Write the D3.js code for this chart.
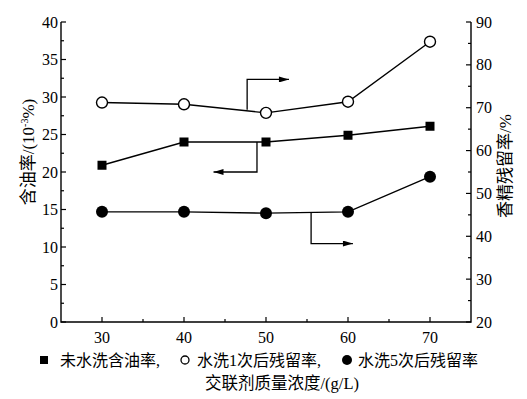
<!DOCTYPE html>
<html>
<head>
<meta charset="utf-8">
<script src="https://cdn.jsdelivr.net/npm/d3@7"></script>
<style>
  body { margin: 0; background: #fff; }
  text { font-family: "Liberation Serif", "Noto Sans CJK SC", serif; fill: #000; }
</style>
</head>
<body>
<script>
// concentration of crosslinker (g/L)
var conc = [30, 40, 50, 60, 70];
// left axis: oil content before washing (10^-3 %)
var oilContent = [20.9, 24.0, 24.0, 24.9, 26.1];
// right axis: retention after 1 wash (%)
var retain1 = [71.2, 70.8, 68.8, 71.4, 85.4];
// right axis: retention after 5 washes (%)
var retain5 = [45.7, 45.7, 45.4, 45.7, 53.9];

var xTicks = [30, 40, 50, 60, 70];
var leftTicks = [0, 5, 10, 15, 20, 25, 30, 35, 40];
var rightTicks = [20, 30, 40, 50, 60, 70, 80, 90];

// arrow annotations in data units, with the axis they refer to
var arrows = [
  {axis: 'right', pts: [[47.7, 69.5], [47.7, 76.6], [52.8, 76.6]]},
  {axis: 'left', pts: [[48.9, 24.0], [48.9, 20.0], [43.6, 20.0]]},
  {axis: 'right', pts: [[55.5, 45.5], [55.5, 38.3], [60.6, 38.3]]}
];

var width = 527, height = 399;
var margin = {top: 22, right: 56, bottom: 77, left: 61};

var svg = d3.select('body').append('svg')
    .attr('width', width)
    .attr('height', height);

var defs = svg.append('defs');
defs.append('marker')
    .attr('id', 'arr')
    .attr('viewBox', '0 0 10 6')
    .attr('refX', 10).attr('refY', 3)
    .attr('markerWidth', 11).attr('markerHeight', 6)
    .attr('markerUnits', 'userSpaceOnUse')
    .attr('orient', 'auto')
    .append('path').attr('d', 'M0,0L10,3L0,6Z').attr('fill', '#000');

var x = d3.scaleLinear().domain([25, 75]).range([margin.left, width - margin.right]);
var yL = d3.scaleLinear().domain([0, 40]).range([height - margin.bottom, margin.top]);
var yR = d3.scaleLinear().domain([20, 90]).range([height - margin.bottom, margin.top]);

var g = svg.append('g');

// axis lines
var x0 = x.range()[0], x1 = x.range()[1], yb = yL.range()[0], yt = yL.range()[1];
g.append('path')
    .attr('d', 'M' + x0 + ',' + yt + 'V' + yb + 'H' + x1 + 'V' + yt)
    .attr('fill', 'none').attr('stroke', '#000').attr('stroke-width', 1.4);

// bottom ticks (inward)
var xMinor = d3.range(35, 75, 10);
g.selectAll('.xt').data(xTicks).enter().append('line')
    .attr('x1', function (d) { return x(d); }).attr('x2', function (d) { return x(d); })
    .attr('y1', yb).attr('y2', yb - 5)
    .attr('stroke', '#000').attr('stroke-width', 1.2);
g.selectAll('.xm').data(xMinor).enter().append('line')
    .attr('x1', function (d) { return x(d); }).attr('x2', function (d) { return x(d); })
    .attr('y1', yb).attr('y2', yb - 3)
    .attr('stroke', '#000').attr('stroke-width', 1.2);
g.selectAll('.xl').data(xTicks).enter().append('text')
    .attr('x', function (d) { return x(d); }).attr('y', yb + 21)
    .attr('text-anchor', 'middle').attr('font-size', 16)
    .text(function (d) { return d; });

// left ticks
var leftMinor = d3.range(2.5, 40, 5);
g.selectAll('.lt').data(leftTicks).enter().append('line')
    .attr('x1', x0).attr('x2', x0 + 5)
    .attr('y1', function (d) { return yL(d); }).attr('y2', function (d) { return yL(d); })
    .attr('stroke', '#000').attr('stroke-width', 1.2);
g.selectAll('.lm').data(leftMinor).enter().append('line')
    .attr('x1', x0).attr('x2', x0 + 3)
    .attr('y1', function (d) { return yL(d); }).attr('y2', function (d) { return yL(d); })
    .attr('stroke', '#000').attr('stroke-width', 1.2);
g.selectAll('.ll').data(leftTicks).enter().append('text')
    .attr('x', x0 - 3).attr('y', function (d) { return yL(d) + 5.5; })
    .attr('text-anchor', 'end').attr('font-size', 16)
    .text(function (d) { return d; });

// right ticks
var rightMinor = d3.range(25, 90, 10);
g.selectAll('.rt').data(rightTicks).enter().append('line')
    .attr('x1', x1).attr('x2', x1 - 5)
    .attr('y1', function (d) { return yR(d); }).attr('y2', function (d) { return yR(d); })
    .attr('stroke', '#000').attr('stroke-width', 1.2);
g.selectAll('.rm').data(rightMinor).enter().append('line')
    .attr('x1', x1).attr('x2', x1 - 3)
    .attr('y1', function (d) { return yR(d); }).attr('y2', function (d) { return yR(d); })
    .attr('stroke', '#000').attr('stroke-width', 1.2);
g.selectAll('.rl').data(rightTicks).enter().append('text')
    .attr('x', x1 + 5).attr('y', function (d) { return yR(d) + 5.5; })
    .attr('text-anchor', 'start').attr('font-size', 16)
    .text(function (d) { return d; });

// axis titles
svg.append('text')
    .attr('transform', 'translate(34,152) rotate(-90)')
    .attr('text-anchor', 'middle').attr('font-size', 17)
    .html('含油率/(10<tspan dy="-6" font-size="10">-3</tspan><tspan dy="6">%)</tspan>');
svg.append('text')
    .attr('transform', 'translate(511,166) rotate(-90)')
    .attr('text-anchor', 'middle').attr('font-size', 17)
    .text('香精残留率/%');
svg.append('text')
    .attr('x', 282).attr('y', 389)
    .attr('text-anchor', 'middle').attr('font-size', 16.5)
    .text('交联剂质量浓度/(g/L)');

// series lines
function lineFor(yScale) {
  return d3.line()
      .x(function (d) { return x(d[0]); })
      .y(function (d) { return yScale(d[1]); });
}
var sq = d3.zip(conc, oilContent);
var c1 = d3.zip(conc, retain1);
var c5 = d3.zip(conc, retain5);

[[sq, yL], [c1, yR], [c5, yR]].forEach(function (s) {
  g.append('path').datum(s[0]).attr('d', lineFor(s[1]))
      .attr('fill', 'none').attr('stroke', '#000').attr('stroke-width', 1.4);
});

// arrows
arrows.forEach(function (a) {
  var ys = a.axis === 'left' ? yL : yR;
  g.append('path').datum(a.pts).attr('d', lineFor(ys))
      .attr('fill', 'none').attr('stroke', '#000').attr('stroke-width', 1.3)
      .attr('marker-end', 'url(#arr)');
});

// markers
g.selectAll('.sq').data(sq).enter().append('rect')
    .attr('x', function (d) { return x(d[0]) - 4.5; })
    .attr('y', function (d) { return yL(d[1]) - 4.5; })
    .attr('width', 9).attr('height', 9).attr('fill', '#000');
g.selectAll('.c1').data(c1).enter().append('circle')
    .attr('cx', function (d) { return x(d[0]); })
    .attr('cy', function (d) { return yR(d[1]); })
    .attr('r', 5.5).attr('fill', '#fff').attr('stroke', '#000').attr('stroke-width', 1.4);
g.selectAll('.c5').data(c5).enter().append('circle')
    .attr('cx', function (d) { return x(d[0]); })
    .attr('cy', function (d) { return yR(d[1]); })
    .attr('r', 6).attr('fill', '#000');

// legend
var ly = 360;
svg.append('rect').attr('x', 40).attr('y', ly - 4).attr('width', 8).attr('height', 8).attr('fill', '#000');
svg.append('text').attr('x', 60).attr('y', ly + 6).attr('font-size', 16).text('未水洗含油率,');
svg.append('circle').attr('cx', 185).attr('cy', ly).attr('r', 4).attr('fill', '#fff').attr('stroke', '#000').attr('stroke-width', 1.3);
svg.append('text').attr('x', 197).attr('y', ly + 6).attr('font-size', 16).text('水洗1次后残留率,');
svg.append('circle').attr('cx', 347).attr('cy', ly).attr('r', 5).attr('fill', '#000');
svg.append('text').attr('x', 358).attr('y', ly + 6).attr('font-size', 16).text('水洗5次后残留率');
</script>
</body>
</html>
